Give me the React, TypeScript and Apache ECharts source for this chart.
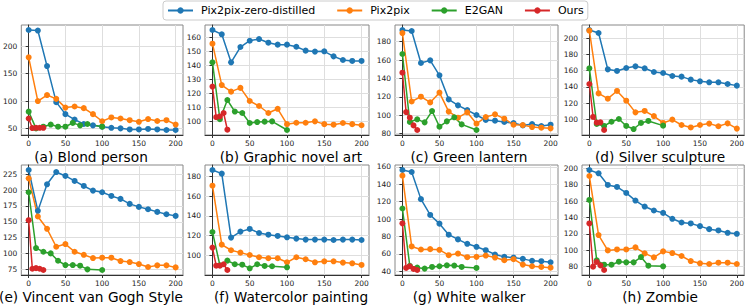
import React, { useEffect, useRef } from "react";
import * as echarts from "echarts";

// x positions of each method's checkpoints
const xZero = [0, 12.5, 25, 37.5, 50, 62.5, 75, 87.5, 100, 112.5, 125, 137.5, 150, 162.5, 175, 187.5, 200];
const xP2P = xZero;
const xE2GAN = [0, 10, 20, 30, 40, 50, 60, 70, 80, 100];
const xOurs = [0, 5, 10, 15, 20];
const xTicks = [0, 50, 100, 150, 200];

const seriesNames = ["Pix2pix-zero-distilled", "Pix2pix", "E2GAN", "Ours"];
const seriesColors = ["#1f77b4", "#ff7f0e", "#2ca02c", "#d62728"];

const panelTitles = [
  "(a) Blond person",
  "(b) Graphic novel art",
  "(c) Green lantern",
  "(d) Silver sculpture",
  "(e) Vincent van Gogh Style",
  "(f) Watercolor painting",
  "(g) White walker",
  "(h) Zombie",
];

// (a) Blond person
const blondZero = [230, 229, 164, 98, 76, 66, 58, 55.5, 53, 51, 50, 48, 48, 49, 48, 47, 47];
const blondP2P = [180, 100, 111, 104, 88, 90, 87, 76, 63, 70, 68, 65, 62, 67, 63.5, 65, 57];
const blondE2GAN = [80.6, 50, 53, 57, 53, 53, 60, 55.5, 58, 53];
const blondOurs = [68, 50.5, 51, 51, 51];
const blondTicks = [50, 100, 150, 200];

// (b) Graphic novel art
const graphicZero = [165.5, 162.4, 142.3, 153.3, 157.8, 159, 156.4, 155, 155, 153.5, 150.7, 150, 150.2, 146.6, 144, 143.3, 143.3];
const graphicP2P = [155.7, 126, 121.3, 124, 114.6, 111, 106, 109, 98, 99, 99, 100, 98, 97.6, 98.8, 98, 97.2];
const graphicE2GAN = [142.3, 101.5, 115.3, 107, 106, 98.8, 99.5, 99.8, 100, 93.8];
const graphicOurs = [124.9, 103, 103.5, 106, 94];
const graphicTicks = [90, 100, 110, 120, 130, 140, 150, 160];

// (c) Green lantern
const lanternZero = [192.7, 191.6, 156.8, 159.7, 143.4, 117.3, 110.8, 105.7, 100.3, 94.9, 94.1, 92.7, 91.6, 89, 90.5, 88.3, 89.8];
const lanternP2P = [189.4, 115, 120.2, 114, 124.6, 104, 97.4, 103.2, 90.9, 98.1, 101, 96.3, 89.8, 89.4, 87.2, 86.5, 85.8];
const lanternE2GAN = [166.6, 92.7, 95.6, 92.3, 104.6, 87.6, 93.4, 97.8, 90.1, 84];
const lanternOurs = [146.3, 103.5, 97.4, 89, 84];
const lanternTicks = [80, 100, 120, 140, 160, 180];

// (d) Silver sculpture
const silverZero = [210.3, 206.6, 161.7, 159.7, 163.4, 165.4, 163, 158.4, 157.2, 153.5, 152.7, 149, 146.9, 145.7, 145.7, 143.6, 141.6];
const silverP2P = [209.5, 132, 125.5, 135, 123, 108.6, 110.3, 104, 95.5, 99.6, 93, 90, 93, 94.7, 91.4, 95, 88.5];
const silverE2GAN = [163, 94.2, 91.8, 97, 100.4, 91.8, 88, 95.5, 98, 92.2];
const silverOurs = [143.6, 102.9, 95.9, 96.3, 86.8];
const silverTicks = [100, 120, 140, 160, 180, 200];

// (e) Vincent van Gogh Style
const goghZero = [231.8, 167.3, 209.2, 228.6, 222.4, 214.5, 206.6, 199.3, 196.7, 190.9, 186.2, 178.3, 173.6, 169.9, 165.7, 162, 159.4];
const goghP2P = [218.7, 158.4, 139, 110.7, 114.9, 102.8, 98, 92.8, 93.4, 93.4, 88.1, 86.5, 83.4, 78.7, 81.3, 81.3, 78.1];
const goghE2GAN = [196.7, 108.6, 102.8, 100.2, 88.6, 81.8, 81.8, 80.8, 75, 74];
const goghOurs = [152.6, 76, 77, 76, 74];
const goghTicks = [75, 100, 125, 150, 175, 200, 225];

// (f) Watercolor painting
const waterZero = [186.4, 182.7, 117.9, 124, 126.7, 122.6, 120.9, 119.6, 118.2, 116.9, 115.9, 115.9, 115.9, 115.5, 115.9, 115.9, 115.5];
const waterP2P = [170.5, 110.8, 105.1, 102.7, 100.3, 98, 97, 97, 92.9, 98, 96, 92.9, 93.9, 93.9, 92.6, 91.9, 90.2];
const waterE2GAN = [123.6, 89.9, 94.6, 90.9, 90.5, 86.8, 90.9, 89.2, 88.9, 87.8];
const waterOurs = [107.8, 89.5, 89.5, 90.9, 85.1];
const waterTicks = [100, 120, 140, 160, 180];

// (g) White walker
const walkerZero = [156.5, 154.2, 123, 104.8, 94.8, 82.1, 76.7, 71.6, 68.2, 64.3, 59.3, 56.6, 55.8, 54.3, 52, 51.6, 50.4];
const walkerP2P = [150, 68.6, 65.1, 65.5, 64.7, 58.5, 60.4, 56.2, 56.6, 58.1, 55.8, 52.7, 53.9, 47.7, 45.8, 45, 44.2];
const walkerE2GAN = [112.2, 46.2, 44.2, 43.1, 45, 45.8, 46.9, 46.6, 45, 43.9];
const walkerOurs = [95.2, 43.9, 45.8, 42.7, 41.5];
const walkerTicks = [40, 60, 80, 100, 120, 140, 160];

// (h) Zombie
const zombieZero = [198.4, 194.3, 180, 177.6, 170.2, 160.8, 153.5, 148.6, 145.7, 138.4, 133.9, 132.7, 129.4, 125.7, 124.1, 121.2, 120];
const zombieP2P = [191, 118.4, 99.6, 100.8, 100.8, 103.3, 95.9, 91, 98.4, 96.3, 92.7, 86.5, 83.7, 82.9, 84.5, 84.5, 82.9];
const zombieE2GAN = [161.6, 87.3, 82, 82, 85.7, 84.9, 84.9, 91.4, 80.8, 80];
const zombieOurs = [132.7, 79.6, 85.3, 81.2, 75.5];
const zombieTicks = [80, 100, 120, 140, 160, 180, 200];

const panels = [
  { zero: blondZero, p2p: blondP2P, e2gan: blondE2GAN, ours: blondOurs, ticks: blondTicks },
  { zero: graphicZero, p2p: graphicP2P, e2gan: graphicE2GAN, ours: graphicOurs, ticks: graphicTicks },
  { zero: lanternZero, p2p: lanternP2P, e2gan: lanternE2GAN, ours: lanternOurs, ticks: lanternTicks },
  { zero: silverZero, p2p: silverP2P, e2gan: silverE2GAN, ours: silverOurs, ticks: silverTicks },
  { zero: goghZero, p2p: goghP2P, e2gan: goghE2GAN, ours: goghOurs, ticks: goghTicks },
  { zero: waterZero, p2p: waterP2P, e2gan: waterE2GAN, ours: waterOurs, ticks: waterTicks },
  { zero: walkerZero, p2p: walkerP2P, e2gan: walkerE2GAN, ours: walkerOurs, ticks: walkerTicks },
  { zero: zombieZero, p2p: zombieP2P, e2gan: zombieE2GAN, ours: zombieOurs, ticks: zombieTicks },
];

// layout
const colLeft = [17, 205, 395, 582];
const colWidth = [166, 164, 163, 163];
const rowTop = [25, 165];
const plotHeight = 110;
const titleCenterX = [91, 291, 469, 660];
const titleY = [157, 297];

const FONT = "DejaVu Sans, sans-serif";

function pairs(xs: number[], ys: number[]) {
  return ys.map((y, i) => [xs[i], y]);
}

export default function App() {
  const ref = useRef<HTMLDivElement>(null);

  useEffect(() => {
    if (!ref.current) return;
    const chart = echarts.init(ref.current, null, { renderer: "svg" });

    const grids: any[] = [];
    const xAxes: any[] = [];
    const yAxes: any[] = [];
    const series: any[] = [];
    const graphics: any[] = [];

    panels.forEach((p, i) => {
      const r = Math.floor(i / 4);
      const c = i % 4;
      grids.push({
        left: colLeft[c],
        top: rowTop[r],
        width: colWidth[c],
        height: plotHeight,
        show: true,
        borderColor: "#888",
        borderWidth: 1,
        backgroundColor: "transparent",
      });
      xAxes.push({
        type: "value",
        gridIndex: i,
        min: -10,
        max: 210,
        axisLine: { show: true, onZero: false, lineStyle: { color: "#333", width: 1 } },
        axisTick: { show: true, length: 3, customValues: xTicks, lineStyle: { color: "#333" } },
        axisLabel: { customValues: xTicks, fontSize: 7.5, color: "#222", margin: 4, fontFamily: FONT },
        splitLine: { show: true, lineStyle: { color: "#dedede", width: 1 } },
      });
      const all = [...p.zero, ...p.p2p, ...p.e2gan, ...p.ours];
      const lo = Math.min(...all);
      const hi = Math.max(...all);
      const pad = (hi - lo) * 0.05;
      yAxes.push({
        type: "value",
        gridIndex: i,
        min: lo - pad,
        max: hi + pad,
        axisLine: { show: true, lineStyle: { color: "#333", width: 1 } },
        axisTick: { show: true, length: 3, customValues: p.ticks, lineStyle: { color: "#333" } },
        axisLabel: { customValues: p.ticks, fontSize: 7.5, color: "#222", margin: 4, fontFamily: FONT },
        splitLine: { show: true, lineStyle: { color: "#dedede", width: 1 } },
      });
      const sets = [
        pairs(xZero, p.zero),
        pairs(xP2P, p.p2p),
        pairs(xE2GAN, p.e2gan),
        pairs(xOurs, p.ours),
      ];
      sets.forEach((d, k) => {
        series.push({
          type: "line",
          name: seriesNames[k],
          xAxisIndex: i,
          yAxisIndex: i,
          data: d,
          symbol: "circle",
          symbolSize: 6,
          color: seriesColors[k],
          lineStyle: { width: 1.5, color: seriesColors[k] },
          itemStyle: { color: seriesColors[k] },
          emphasis: { disabled: true },
        });
      });
      graphics.push({
        type: "text",
        x: titleCenterX[c],
        y: titleY[r],
        style: {
          text: panelTitles[i],
          font: `13.7px ${FONT}`,
          fill: "#000",
          align: "center",
          verticalAlign: "middle",
          textAlign: "center",
          textVerticalAlign: "middle",
        },
      });
    });

    chart.setOption({
      animation: false,
      backgroundColor: "#fff",
      legend: {
        data: seriesNames,
        left: 163,
        top: 1,
        padding: [4, 4, 4, 4],
        itemGap: 21,
        itemWidth: 25,
        itemHeight: 8,
        borderColor: "#ccc",
        borderWidth: 1,
        borderRadius: 3,
        textStyle: { fontSize: 11, color: "#000", fontFamily: FONT, padding: [0, 0, 0, 3] },
      },
      grid: grids,
      xAxis: xAxes,
      yAxis: yAxes,
      series,
      graphic: graphics,
    });

    return () => chart.dispose();
  }, []);

  return (
    <div
      ref={ref}
      style={{ position: "fixed", left: 0, top: 0, width: 747, height: 307 }}
    />
  );
}
